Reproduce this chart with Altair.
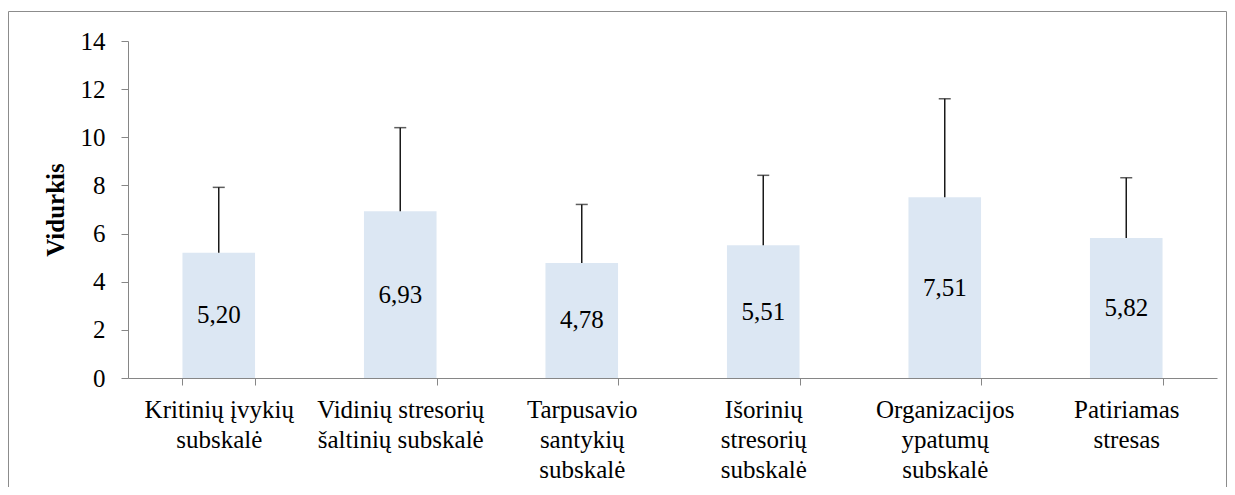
import altair as alt
import pandas as pd

categories = [
    "Kritinių įvykių|subskalė",
    "Vidinių stresorių|šaltinių subskalė",
    "Tarpusavio|santykių|subskalė",
    "Išorinių|stresorių|subskalė",
    "Organizacijos|ypatumų|subskalė",
    "Patiriamas|stresas",
]
means = [5.20, 6.93, 4.78, 5.51, 7.51, 5.82]
sds = [2.72, 3.47, 2.43, 2.91, 4.09, 2.50]
y_ticks = [0, 2, 4, 6, 8, 10, 12, 14]

df = pd.DataFrame({
    "cat": categories,
    "mean": means,
    "upper": [m + s for m, s in zip(means, sds)],
    "half": [m / 2 for m in means],
    "label": [f"{m:.2f}".replace(".", ",") for m in means],
})

FONT = "Liberation Serif"
AXIS_GRAY = "#868686"

x_enc = alt.X(
    "cat:N",
    sort=None,
    title=None,
    scale=alt.Scale(paddingInner=0.6, paddingOuter=0.3),
    axis=alt.Axis(
        labelAngle=0,
        labelExpr="split(datum.label, '|')",
        labelFont=FONT,
        labelFontSize=25,
        labelColor="#000000",
        labelLineHeight=30,
        labelPadding=12,
        labelBaseline="top",
        tickBand="extent",
        tickSize=7,
        tickColor=AXIS_GRAY,
        domainColor=AXIS_GRAY,
        labelLimit=400,
    ),
)

y_scale = alt.Scale(domain=[0, 14], nice=False)

base = alt.Chart(df)

bars = base.mark_bar(color="#DCE7F3").encode(
    x=x_enc,
    y=alt.Y(
        "mean:Q",
        scale=y_scale,
        title="Vidurkis",
        axis=alt.Axis(
            values=y_ticks,
            grid=False,
            labelFont=FONT,
            labelFontSize=25,
            labelColor="#000000",
            labelPadding=16,
            tickSize=7,
            tickColor=AXIS_GRAY,
            domainColor=AXIS_GRAY,
            titleFont=FONT,
            titleFontSize=25,
            titleFontWeight="bold",
            titleColor="#000000",
            titlePadding=12,
        ),
    ),
)

err = base.mark_rule(color="#1a1a1a", strokeWidth=1.5).encode(
    x=alt.X("cat:N", sort=None),
    y=alt.Y("mean:Q", scale=y_scale),
    y2="upper:Q",
)

caps = base.mark_tick(color="#1a1a1a", thickness=1.5, size=12, orient="horizontal").encode(
    x=alt.X("cat:N", sort=None),
    y=alt.Y("upper:Q", scale=y_scale),
)

texts = base.mark_text(font=FONT, fontSize=25, color="#000000", baseline="middle").encode(
    x=alt.X("cat:N", sort=None),
    y=alt.Y("half:Q", scale=y_scale),
    text="label:N",
)

border = alt.Chart(pd.DataFrame({"k": [0]})).mark_rect(
    fill=None, stroke="#8c8c8c", strokeWidth=1, clip=False
).encode(
    x=alt.value(-119.5), x2=alt.value(1098.5),
    y=alt.value(-29.5), y2=alt.value(470),
)

chart = alt.layer(border, bars, err, caps, texts).properties(
    width=1089,
    height=337,
    autosize="none",
    padding={"left": 120, "top": 33, "right": 10, "bottom": 109},
).configure(
    background="white",
    font=FONT,
    view=alt.ViewConfig(stroke=None),
)

chart.save("out.html", embed_options={"renderer": "svg", "actions": False})
